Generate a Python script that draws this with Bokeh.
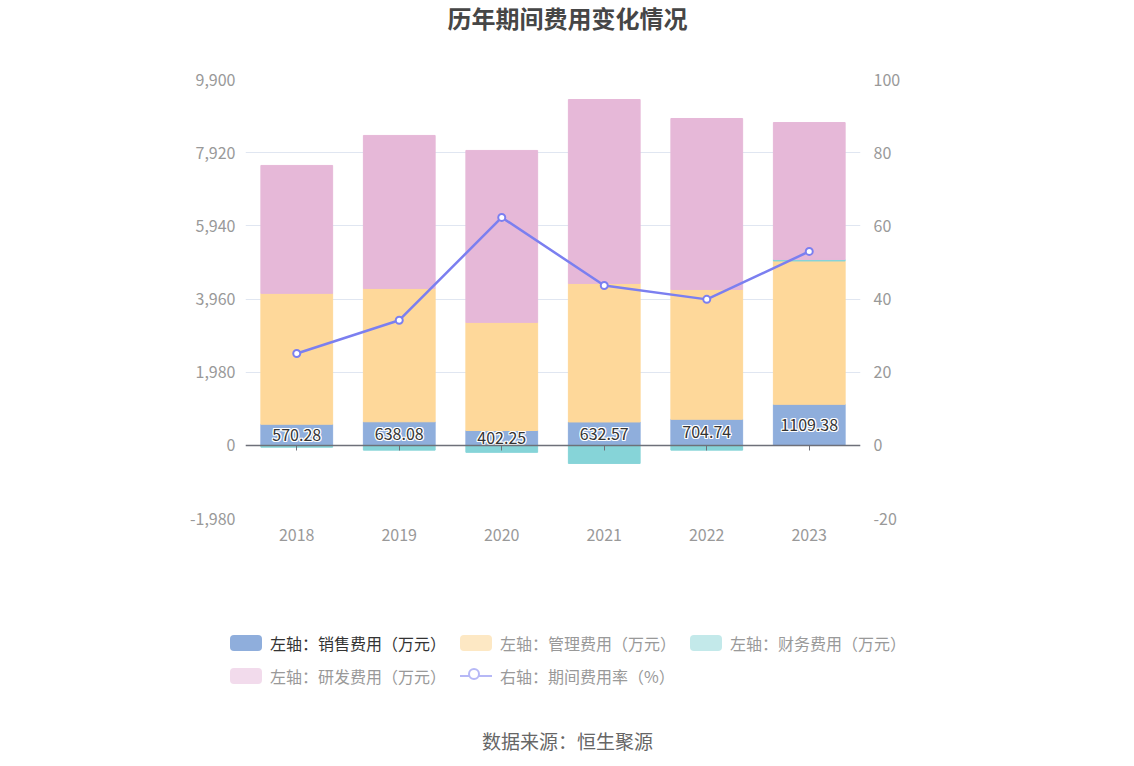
from bokeh.plotting import figure
from bokeh.models import (Range1d, LinearAxis, CategoricalAxis, FixedTicker, NumeralTickFormatter,
                          Label, ColumnDataSource, FactorRange, Div)
from bokeh.layouts import column
from bokeh.core.properties import value
from bokeh.embed import file_html
from bokeh.resources import INLINE
import numpy as np

years = ["2018", "2019", "2020", "2021", "2022", "2023"]
sales = [570.28, 638.08, 402.25, 632.57, 704.74, 1109.38]
mgmt = [3542, 3609, 2925, 3749, 3515, 3880]
finance = [-50, -130, -190, -490, -130, 40]
rnd = [3462, 4139, 4653, 4977, 4625, 3706]
rate = [25.1, 34.2, 62.3, 43.7, 39.9, 53.0]

left_ticks = [-1980, 0, 1980, 3960, 5940, 7920, 9900]
right_ticks = [-20, 0, 20, 40, 60, 80, 100]

legend_labels = ["左轴：销售费用（万元）", "左轴：管理费用（万元）", "左轴：财务费用（万元）",
                 "左轴：研发费用（万元）", "右轴：期间费用率（%）"]
title_text = "历年期间费用变化情况"
source_text = "数据来源：恒生聚源"

FONT = "Noto Sans CJK SC"
C_SALES, C_MGMT, C_FIN, C_RND, C_LINE = "#8faedc", "#fed89a", "#86d4d8", "#e6b8d8", "#7b7ff0"
W_TOTAL, H_TOTAL = 1134, 766
FRAME_L, FRAME_R, FRAME_T, FRAME_B = 245, 860, 79, 518
TOP_H = 60          # title strip
P_BOT = 60          # main figure bottom border
LEG_H = 132         # legend strip
SRC_H = H_TOTAL - TOP_H - (FRAME_B - TOP_H + P_BOT) - LEG_H


def strip_fig(h):
    f = figure(width=W_TOTAL, height=h, x_range=Range1d(FRAME_L, FRAME_R), y_range=Range1d(h, 0),
               output_backend="svg", toolbar_location=None,
               min_border_left=FRAME_L, min_border_right=W_TOTAL - FRAME_R,
               min_border_top=0, min_border_bottom=0,
               x_axis_location=None, y_axis_location=None)
    f.outline_line_alpha = 0
    f.grid.visible = False
    return f


# ---------- title strip ----------
ft = strip_fig(TOP_H)
ft.add_layout(Label(x=567, y=17, text=title_text, text_align="center", text_baseline="middle",
                    text_font=FONT, text_font_size="24px", text_font_style="bold",
                    text_color="#464646"))

# ---------- main chart ----------
s = np.array(sales); m = np.array(mgmt); f_ = np.array(finance); r = np.array(rnd)
fpos = np.where(f_ > 0, f_, 0)
src = ColumnDataSource(dict(
    x=years,
    s_top=s, s_mid=s / 2,
    m_bot=s, m_top=s + m,
    f_bot=np.where(f_ > 0, s + m, 0), f_top=np.where(f_ > 0, s + m + f_, f_),
    r_bot=s + m + fpos, r_top=s + m + fpos + r,
    rate=rate, lbl=[f"{v:.2f}" for v in sales],
))

p = figure(width=W_TOTAL, height=(FRAME_T - TOP_H) + (FRAME_B - FRAME_T) + P_BOT,
           x_range=FactorRange(*years, range_padding=0),
           y_range=Range1d(-1980, 9900), output_backend="svg", toolbar_location=None,
           min_border_left=FRAME_L, min_border_right=W_TOTAL - FRAME_R,
           min_border_top=FRAME_T - TOP_H, min_border_bottom=P_BOT,
           x_axis_location=None, y_axis_location=None)
p.outline_line_alpha = 0
p.extra_y_ranges = {"right": Range1d(-20, 100)}

ly = LinearAxis(ticker=FixedTicker(ticks=left_ticks), formatter=NumeralTickFormatter(format="0,0"))
ry = LinearAxis(y_range_name="right", ticker=FixedTicker(ticks=right_ticks),
                formatter=NumeralTickFormatter(format="0"))
for ax in (ly, ry):
    ax.axis_line_alpha = 0
    ax.major_tick_line_alpha = 0
    ax.major_tick_out = 0
    ax.major_tick_in = 0
    ax.minor_tick_line_alpha = 0
    ax.minor_tick_out = 0
    ax.major_label_text_color = "#999999"
    ax.major_label_text_font = FONT
    ax.major_label_text_font_size = "16px"
ly.major_label_standoff = 10
ry.major_label_standoff = 13
p.add_layout(ly, "left")
p.add_layout(ry, "right")

bx = CategoricalAxis()
bx.axis_line_alpha = 0
bx.major_tick_line_alpha = 0
bx.major_tick_out = 0
bx.major_tick_in = 0
bx.major_label_text_color = "#999999"
bx.major_label_text_font = FONT
bx.major_label_text_font_size = "16px"
bx.major_label_standoff = 10
p.add_layout(bx, "below")

zx = CategoricalAxis(fixed_location=0)
zx.axis_line_color = "#6e7079"
zx.axis_line_width = 1.5
zx.major_tick_line_color = "#6e7079"
zx.major_tick_out = 5
zx.major_tick_in = 0
zx.major_label_text_font_size = "0px"
zx.major_label_text_alpha = 0
zx.major_label_standoff = 0
p.add_layout(zx, "below")

p.xgrid.visible = False
p.ygrid.ticker = FixedTicker(ticks=left_ticks)
p.ygrid.grid_line_color = "#e0e6f1"

BW = 0.7
p.vbar(x="x", bottom=0, top="s_top", width=BW, color=C_SALES, source=src)
p.vbar(x="x", bottom="m_bot", top="m_top", width=BW, color=C_MGMT, source=src)
p.vbar(x="x", bottom="f_bot", top="f_top", width=BW, color=C_FIN, source=src)
p.vbar(x="x", bottom="r_bot", top="r_top", width=BW, color=C_RND, source=src)
zx.level = "overlay"

p.line(x="x", y="rate", y_range_name="right", line_color=C_LINE, line_width=2.5, source=src)
p.scatter(x="x", y="rate", y_range_name="right", size=7, fill_color="white",
          line_color=C_LINE, line_width=2, source=src)

for dx in (-1, 0, 1):
    for dy in (-1, 0, 1):
        if dx == 0 and dy == 0:
            continue
        p.text(x="x", y="s_mid", text="lbl", source=src, x_offset=dx, y_offset=dy,
               text_align="center", text_baseline="middle", text_font=value(FONT),
               text_font_size="16px", text_color="white")
p.text(x="x", y="s_mid", text="lbl", source=src, text_align="center", text_baseline="middle",
       text_font=value(FONT), text_font_size="16px", text_color="#333333")

# ---------- legend strip (HTML) ----------
LEG_Y0 = FRAME_B + P_BOT
legend_specs = [
    (legend_labels[0], "box", C_SALES, 230, 643, "#333333"),
    (legend_labels[1], "box", "#fde8c4", 460, 643, "#999999"),
    (legend_labels[2], "box", "#c3e9ea", 690, 643, "#999999"),
    (legend_labels[3], "box", "#f2dbec", 230, 676, "#999999"),
    (legend_labels[4], "line", "#b6b8f6", 460, 676, "#999999"),
]
parts = []
for label, kind, color, x, yc, tcol in legend_specs:
    ly_ = yc - LEG_Y0
    if kind == "box":
        parts.append(f'<div style="position:absolute;left:{x}px;top:{ly_-8}px;width:32px;height:16px;'
                     f'background:{color};border-radius:4px;"></div>')
    else:
        parts.append(f'<div style="position:absolute;left:{x}px;top:{ly_-1}px;width:32px;height:2px;'
                     f'background:{color};"></div>')
        parts.append(f'<div style="position:absolute;left:{x+8}px;top:{ly_-8}px;width:12px;height:12px;'
                     f'border:2px solid {color};border-radius:50%;background:#ffffff;"></div>')
    parts.append(f'<div style="position:absolute;left:{x+40}px;top:{ly_-12}px;height:24px;line-height:24px;'
                 f'white-space:nowrap;color:{tcol};font-family:\'{FONT}\';font-size:16px;">{label}</div>')
legend_html = (f'<div style="position:relative;width:{W_TOTAL}px;height:{LEG_H}px;margin:0;padding:0;">'
               + "".join(parts) + '</div>')
leg = Div(text=legend_html, width=W_TOTAL, height=LEG_H, margin=0)

# ---------- source strip ----------
fs = strip_fig(SRC_H)
fs.add_layout(Label(x=567, y=740 - (H_TOTAL - SRC_H), text=source_text, text_align="center",
                    text_baseline="middle", text_font=FONT, text_font_size="19px",
                    text_color="#666666"))

layout = column(ft, p, leg, fs, spacing=0)
open("out.html", "w").write(file_html(layout, INLINE))
